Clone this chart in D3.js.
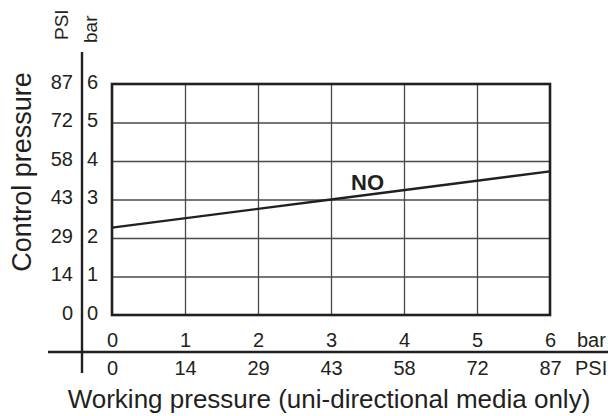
<!DOCTYPE html>
<html lang="en">
	<head>
		<meta charset="UTF-8">
		<title>Control pressure</title>
		<script src="https://d3js.org/d3.v7.min.js"></script>
		<style>
			body {
				margin: 0;
				background: white;
			}

			svg text {
				font-family: "Liberation Sans", Arial, Helvetica, sans-serif;
				fill: #231f20;
			}

			.tick text {
				font-size: 20px;
			}

			.grid line {
				stroke: #4a4a4a;
				stroke-width: 1.3;
			}
		</style>
	</head>
	<body>
		<svg id="chart" width="608" height="416"></svg>
		<script>
			const barTicks = [0, 1, 2, 3, 4, 5, 6]
			const psiTicks = [0, 14, 29, 43, 58, 72, 87]
			// working pressure (bar) -> control pressure (bar)
			const workBar = [0, 3, 6]
			const ctrlBar = [2.27, 3.0, 3.73]
			const seriesLabel = "NO"
			const labelAt = [3.5, 3.45]

			const svg = d3.select("#chart")
			const ink = "#231f20"

			const x = d3.scaleLinear().domain([0, 6]).range([112, 550])
			const y = d3.scaleLinear().domain([0, 6]).range([315, 84])

			const axisX = 82
			const axisY = 352

			// grid
			svg.append("g").classed("grid", true)
				.attr("transform", `translate(0,${y(0)})`)
				.call(d3.axisBottom(x).tickValues(barTicks.slice(1, -1)).tickSize(y(6) - y(0)).tickFormat(""))
				.call(g => g.select(".domain").remove())
			svg.append("g").classed("grid", true)
				.attr("transform", `translate(${x(0)},0)`)
				.call(d3.axisRight(y).tickValues(barTicks.slice(1, -1)).tickSize(x(6) - x(0)).tickFormat(""))
				.call(g => g.select(".domain").remove())

			// frame
			svg.append("rect")
				.attr("x", x(0))
				.attr("y", y(6))
				.attr("width", x(6) - x(0))
				.attr("height", y(0) - y(6))
				.attr("fill", "none")
				.attr("stroke", ink)
				.attr("stroke-width", 2.6)

			// series line
			const line = d3.line().x(d => x(d[0])).y(d => y(d[1]))
			svg.append("path")
				.datum(workBar.map((w, i) => [w, ctrlBar[i]]))
				.attr("d", line)
				.attr("fill", "none")
				.attr("stroke", ink)
				.attr("stroke-width", 2.4)

			svg.append("text")
				.attr("x", x(labelAt[0]))
				.attr("y", y(labelAt[1]))
				.attr("text-anchor", "middle")
				.attr("dominant-baseline", "central")
				.attr("font-size", 22)
				.attr("font-weight", "bold")
				.text(seriesLabel)

			// axis lines
			svg.append("line")
				.attr("x1", axisX).attr("x2", axisX)
				.attr("y1", 52).attr("y2", 373)
				.attr("stroke", ink).attr("stroke-width", 2.4)
			svg.append("line")
				.attr("x1", 48).attr("x2", 608)
				.attr("y1", axisY).attr("y2", axisY)
				.attr("stroke", ink).attr("stroke-width", 2.4)

			function clean(g) {
				g.select(".domain").remove()
				g.selectAll(".tick line").remove()
			}

			// y tick labels
			svg.append("g")
				.attr("transform", `translate(${axisX},-2)`)
				.call(d3.axisRight(y).tickValues(barTicks).tickSize(0).tickPadding(5).tickFormat(d3.format("d")))
				.call(clean)
			svg.append("g")
				.attr("transform", `translate(${axisX},-2)`)
				.call(d3.axisLeft(y).tickValues(barTicks).tickSize(0).tickPadding(9).tickFormat((d, i) => psiTicks[i]))
				.call(clean)

			// x tick labels
			svg.append("g")
				.attr("transform", `translate(0,${axisY})`)
				.call(d3.axisTop(x).tickValues(barTicks).tickSize(0).tickPadding(5).tickFormat(d3.format("d")))
				.call(clean)
			svg.append("g")
				.attr("transform", `translate(0,${axisY})`)
				.call(d3.axisBottom(x).tickValues(barTicks).tickSize(0).tickPadding(9).tickFormat((d, i) => psiTicks[i]))
				.call(clean)

			// unit labels
			svg.append("text").attr("x", 577).attr("y", axisY - 5).attr("font-size", 20).text("bar")
			svg.append("text").attr("x", 575).attr("y", axisY + 23).attr("font-size", 20).text("PSI")
			svg.append("text").attr("transform", "translate(68,40) rotate(-90)").attr("font-size", 19).text("PSI")
			svg.append("text").attr("transform", "translate(97,43) rotate(-90)").attr("font-size", 19).text("bar")

			// axis titles
			svg.append("text")
				.attr("transform", "translate(31,172) rotate(-90)")
				.attr("text-anchor", "middle")
				.attr("font-size", 27)
				.text("Control pressure")
			svg.append("text")
				.attr("x", 329)
				.attr("y", 408)
				.attr("text-anchor", "middle")
				.attr("font-size", 26)
				.text("Working pressure (uni-directional media only)")
		</script>
	</body>
</html>
